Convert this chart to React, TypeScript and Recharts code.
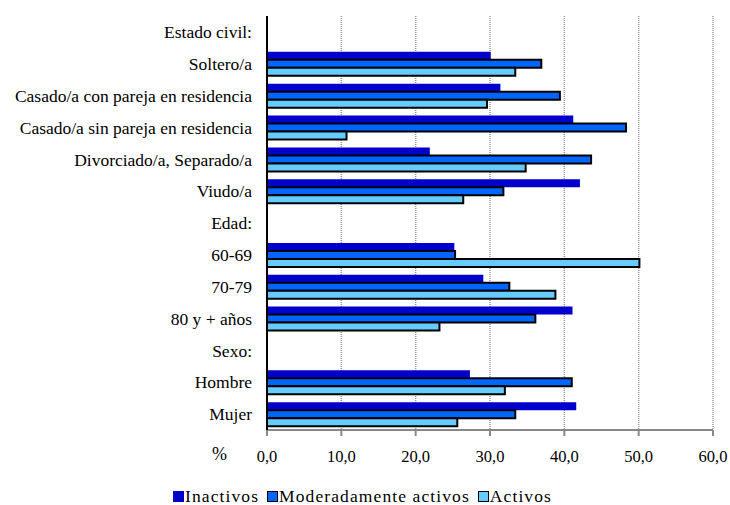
import React from "react";
import {
  BarChart,
  Bar,
  XAxis,
  YAxis,
  CartesianGrid,
  Legend,
} from "recharts";

// ── Data ────────────────────────────────────────────────────────

const categories = [
  "Estado civil:",
  "Soltero/a",
  "Casado/a con pareja  en residencia",
  "Casado/a sin pareja en residencia",
  "Divorciado/a, Separado/a",
  "Viudo/a",
  "Edad:",
  "60-69",
  "70-79",
  "80 y + años",
  "Sexo:",
  "Hombre",
  "Mujer",
];

const inactivos = [null, 30.1, 31.4, 41.2, 21.9, 42.1, null, 25.2, 29.1, 41.1, null, 27.3, 41.6];
const moderados = [null, 36.9, 39.4, 48.3, 43.6, 31.8, null, 25.3, 32.6, 36.1, null, 41.0, 33.4];
const activos = [null, 33.4, 29.6, 10.7, 34.8, 26.4, null, 50.1, 38.8, 23.2, null, 32.0, 25.6];

const xTicks = [0, 10, 20, 30, 40, 50, 60];

const series = [
  { key: "inactivos", name: "Inactivos", fill: "#0000CC", stroke: "none" },
  { key: "moderados", name: "Moderadamente activos", fill: "#0066FF", stroke: "#000" },
  { key: "activos", name: "Activos", fill: "#66CCFF", stroke: "#000" },
];

const data = categories.map((c, i) => ({
  name: c,
  inactivos: inactivos[i],
  moderados: moderados[i],
  activos: activos[i],
}));

const FONT = "Liberation Serif, Tinos, Times New Roman, DejaVu Serif, serif";

const fmt = (v: number) => v.toFixed(1).replace(".", ",");

function LegendBox() {
  return (
    <div
      style={{
        display: "flex",
        justifyContent: "center",
        gap: 8,
        fontFamily: FONT,
        fontSize: 17.5,
        letterSpacing: 1.1,
        color: "#000",
        paddingLeft: 12,
        paddingTop: 26,
      }}
    >
      {series.map((s) => (
        <span key={s.key} style={{ display: "flex", alignItems: "center" }}>
          <span
            style={{
              display: "inline-block",
              width: 9,
              height: 9,
              background: s.fill,
              border: s.stroke === "none" ? "1px solid " + s.fill : "1.5px solid #000",
              marginRight: 1,
            }}
          />
          {s.name}
        </span>
      ))}
    </div>
  );
}

export default function App() {
  return (
    <div style={{ position: "absolute", left: 0, top: 0, width: 730, height: 505, background: "#fff" }}>
      <BarChart
        width={730}
        height={505}
        data={data}
        layout="vertical"
        margin={{ top: 16, right: 17, left: 0, bottom: 0 }}
        barCategoryGap={4}
        barGap={0}
      >
        <CartesianGrid
          horizontal={false}
          stroke="#999"
          strokeWidth={1.5}
          strokeDasharray="1 1"
        />
        <XAxis
          type="number"
          domain={[0, 60]}
          ticks={xTicks}
          tickFormatter={fmt}
          height={30}
          tickSize={6}
          tickMargin={14}
          stroke="#888"
          strokeWidth={2}
          tick={{ fill: "#000", fontSize: 16.5, fontFamily: FONT }}
        />
        <XAxis
          xAxisId="top"
          orientation="top"
          type="number"
          domain={[0, 60]}
          height={0}
          tick={false}
          tickLine={false}
          stroke="#000"
          strokeWidth={2}
        />
        <YAxis
          type="category"
          dataKey="name"
          width={267}
          tickSize={0}
          tickMargin={15}
          interval={0}
          stroke="#000"
          strokeWidth={2}
          tick={{ fill: "#000", fontSize: 17.5, fontFamily: FONT }}
        />
        <YAxis
          yAxisId="right"
          orientation="right"
          type="category"
          dataKey="name"
          width={0}
          tick={false}
          tickLine={false}
          stroke="#000"
          strokeWidth={2}
        />
        <Legend verticalAlign="bottom" height={45} content={() => <LegendBox />} />
        {series.map((s) => (
          <Bar
            key={s.key}
            dataKey={s.key}
            name={s.name}
            fill={s.fill}
            stroke={s.stroke}
            strokeWidth={s.stroke === "none" ? 0 : 2}
            isAnimationActive={false}
          />
        ))}
      </BarChart>
      <div
        style={{
          position: "absolute",
          left: 212,
          top: 444,
          fontFamily: FONT,
          fontSize: 18,
          color: "#000",
        }}
      >
        %
      </div>
    </div>
  );
}
